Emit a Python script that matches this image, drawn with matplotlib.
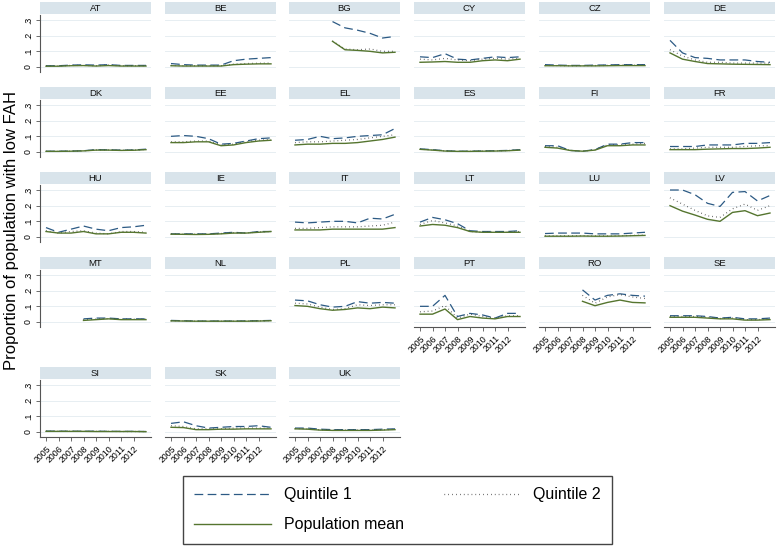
import matplotlib
matplotlib.use('Agg')
import matplotlib.pyplot as plt
import numpy as np

plt.rcParams['font.family'] = ['Liberation Sans', 'DejaVu Sans']

nan = np.nan
years = [2005, 2006, 2007, 2008, 2009, 2010, 2011, 2012, 2013]
tick_years = [2005, 2006, 2007, 2008, 2009, 2010, 2011, 2012]
y_ticks = [0, 0.1, 0.2, 0.3]
y_ticklabels = ['0', '.1', '.2', '.3']
countries = ['AT', 'BE', 'BG', 'CY', 'CZ', 'DE',
             'DK', 'EE', 'EL', 'ES', 'FI', 'FR',
             'HU', 'IE', 'IT', 'LT', 'LU', 'LV',
             'MT', 'NL', 'PL', 'PT', 'RO', 'SE',
             'SI', 'SK', 'UK']

quintile1 = {
    'AT': [.008, .008, .012, .014, .012, .015, .010, .010, .010],
    'BE': [.022, .015, .012, .012, .012, .040, .050, .055, .060],
    'BG': [nan, nan, nan, .290, .250, .235, .215, .185, .195],
    'CY': [.065, .060, .085, .050, .045, .055, .065, .060, .065],
    'CZ': [.015, .012, .010, .010, .012, .013, .015, .015, .015],
    'DE': [.170, .090, .060, .055, .045, .045, .045, .035, .030],
    'DK': [.005, .005, .006, .008, .015, .014, .012, .013, .018],
    'EE': [.100, .105, .100, .085, .050, .055, .070, .085, .090],
    'EL': [.075, .080, .100, .085, .090, .100, .105, .110, .150],
    'ES': [.020, .015, .008, .005, .005, .007, .008, .010, .015],
    'FI': [.040, .040, .010, .005, .015, .050, .050, .060, .060],
    'FR': [.035, .035, .035, .045, .045, .045, .055, .055, .060],
    'HU': [.060, .030, .050, .070, .050, .040, .060, .065, .075],
    'IE': [.020, .020, .020, .020, .025, .030, .025, .035, .035],
    'IT': [.095, .090, .095, .100, .100, .090, .120, .115, .145],
    'LT': [.095, .125, .110, .085, .040, .035, .035, .035, .040],
    'LU': [.022, .025, .025, .025, .020, .020, .020, .025, .030],
    'LV': [.300, .300, .270, .215, .195, .285, .290, .230, .265],
    'MT': [nan, nan, nan, .020, .025, .025, .020, .020, .020],
    'NL': [.010, .008, .006, .006, .006, .006, .007, .008, .010],
    'PL': [.140, .135, .110, .095, .100, .130, .120, .125, .120],
    'PT': [.100, .100, .170, .035, .055, .045, .025, .055, .055],
    'RO': [nan, nan, nan, .205, .140, .170, .180, .170, .165],
    'SE': [.040, .040, .040, .035, .025, .030, .020, .020, .025],
    'SI': [.006, .005, .005, .005, .005, .004, .004, .004, .003],
    'SK': [.055, .065, .040, .025, .030, .035, .035, .040, .030],
    'UK': [.025, .025, .018, .015, .015, .015, .015, .018, .020],
}

quintile2 = {
    'AT': [.006, .006, .010, .010, .008, .012, .008, .008, .008],
    'BE': [.010, .008, .008, .008, .008, .018, .022, .024, .025],
    'BG': [nan, nan, nan, .165, .115, .110, .115, .100, .100],
    'CY': [.050, .045, .055, .045, .040, .050, .055, .050, .055],
    'CZ': [.010, .009, .008, .008, .009, .010, .011, .011, .011],
    'DE': [.110, .070, .045, .030, .030, .025, .025, .025, .025],
    'DK': [.004, .004, .005, .007, .013, .013, .011, .012, .016],
    'EE': [.065, .065, .070, .070, .045, .050, .065, .075, .080],
    'EL': [.060, .065, .065, .070, .075, .080, .090, .100, .110],
    'ES': [.018, .013, .007, .004, .004, .006, .007, .009, .013],
    'FI': [.035, .030, .010, .005, .015, .045, .045, .050, .055],
    'FR': [.020, .020, .025, .030, .030, .030, .035, .040, .040],
    'HU': [.040, .025, .035, .040, .025, .020, .035, .035, .030],
    'IE': [.019, .018, .017, .018, .022, .027, .025, .032, .035],
    'IT': [.055, .055, .060, .065, .065, .065, .070, .075, .095],
    'LT': [.080, .105, .090, .070, .035, .030, .030, .030, .035],
    'LU': [.008, .008, .008, .008, .007, .007, .008, .010, .012],
    'LV': [.250, .210, .170, .135, .125, .180, .210, .170, .200],
    'MT': [nan, nan, nan, .015, .018, .022, .018, .018, .017],
    'NL': [.008, .007, .005, .005, .005, .005, .006, .007, .009],
    'PL': [.120, .115, .095, .080, .085, .110, .105, .110, .110],
    'PT': [.065, .070, .105, .025, .050, .035, .025, .040, .040],
    'RO': [nan, nan, nan, .170, .120, .160, .175, .160, .150],
    'SE': [.035, .035, .035, .030, .022, .025, .015, .015, .020],
    'SI': [.005, .005, .004, .004, .004, .004, .003, .003, .003],
    'SK': [.040, .035, .020, .020, .020, .025, .025, .025, .025],
    'UK': [.022, .020, .014, .012, .012, .012, .012, .014, .017],
}

pop_mean = {
    'AT': [.005, .005, .008, .009, .006, .009, .006, .006, .006],
    'BE': [.008, .006, .006, .006, .006, .015, .018, .020, .020],
    'BG': [nan, nan, nan, .164, .110, .106, .100, .090, .094],
    'CY': [.030, .032, .035, .030, .030, .040, .045, .040, .050],
    'CZ': [.008, .008, .007, .007, .007, .008, .009, .009, .009],
    'DE': [.090, .050, .035, .022, .020, .018, .017, .016, .015],
    'DK': [.004, .004, .005, .007, .012, .012, .010, .011, .015],
    'EE': [.060, .060, .065, .065, .040, .045, .060, .070, .075],
    'EL': [.045, .050, .050, .055, .055, .060, .070, .080, .095],
    'ES': [.017, .012, .006, .004, .004, .005, .006, .008, .012],
    'FI': [.030, .025, .010, .005, .012, .040, .040, .045, .045],
    'FR': [.015, .015, .015, .018, .020, .022, .022, .025, .030],
    'HU': [.035, .025, .025, .035, .020, .020, .030, .030, .025],
    'IE': [.018, .017, .016, .017, .020, .025, .025, .030, .035],
    'IT': [.045, .045, .045, .050, .050, .050, .050, .050, .060],
    'LT': [.070, .080, .075, .060, .035, .030, .030, .030, .030],
    'LU': [.005, .005, .005, .006, .005, .005, .006, .008, .010],
    'LV': [.200, .165, .140, .113, .100, .157, .168, .136, .153],
    'MT': [nan, nan, nan, .010, .015, .020, .015, .015, .015],
    'NL': [.007, .006, .005, .005, .005, .005, .005, .006, .008],
    'PL': [.105, .100, .085, .075, .080, .090, .085, .095, .090],
    'PT': [.050, .050, .083, .015, .035, .025, .020, .035, .035],
    'RO': [nan, nan, nan, .132, .104, .125, .140, .125, .122],
    'SE': [.030, .030, .030, .025, .020, .020, .012, .012, .015],
    'SI': [.004, .004, .004, .004, .003, .003, .003, .003, .002],
    'SK': [.030, .028, .015, .015, .018, .018, .020, .020, .020],
    'UK': [.020, .018, .012, .010, .010, .010, .010, .012, .015],
}

# ---------------- layout (pixels) ----------------
W, H = 778, 547
fig = plt.figure(figsize=(W / 100, H / 100), dpi=100)


def rect(x, y, w, h):
    return [x / W, 1 - (y + h) / H, w / W, h / H]


col_lefts = [40, 165, 289, 414, 539, 664]
row_tops = [2, 87, 172, 257, 367]
panel_w = 111

c_q1 = '#2c5a84'
c_q2 = '#2a2a2a'
c_mean = '#55752f'
strip_col = '#d9e4eb'
grid_col = '#e7eef2'
axis_col = '#555555'

handles = None
for i, c in enumerate(countries):
    r, col = divmod(i, 6)
    top = row_tops[r]
    left = col_lefts[col]

    # strip header
    hax = fig.add_axes(rect(left, top, panel_w, 12))
    hax.set_facecolor(strip_col)
    hax.set_xticks([]); hax.set_yticks([])
    for s in hax.spines.values():
        s.set_visible(False)
    hax.text(0.5, 0.45, c, ha='center', va='center', fontsize=6.8,
             transform=hax.transAxes, color='#111111')

    ax = fig.add_axes(rect(left, top + 13, panel_w, 57))
    ax.set_xlim(2004.52, 2013.4)
    ax.set_ylim(-0.032, 0.332)
    ax.set_yticks(y_ticks)
    ax.grid(axis='y', color=grid_col, lw=0.7)
    ax.set_axisbelow(True)
    for s in ax.spines.values():
        s.set_visible(False)

    l1, = ax.plot(years, quintile1[c], color=c_q1, lw=0.9, dashes=(7, 3.5))
    l2, = ax.plot(years, quintile2[c], color=c_q2, lw=0.9, dashes=(0.5, 2.6),
                  dash_capstyle='butt')
    l3, = ax.plot(years, pop_mean[c], color=c_mean, lw=1.0)
    if handles is None:
        handles = (l1, l2, l3)

    if col == 0:
        ax.spines['left'].set_visible(True)
        ax.spines['left'].set_color(axis_col)
        ax.spines['left'].set_linewidth(0.8)
        ax.set_yticklabels(y_ticklabels, rotation=90, va='center', fontsize=6.3)
        ax.tick_params(axis='y', length=3, width=0.6, color=axis_col, pad=2)
    else:
        ax.tick_params(axis='y', left=False, labelleft=False)

    is_bottom = (r == 4) or (r == 3 and col >= 3)
    ax.set_xticks(tick_years)
    if is_bottom:
        ax.spines['bottom'].set_visible(True)
        ax.spines['bottom'].set_color(axis_col)
        ax.spines['bottom'].set_linewidth(0.8)
        ax.set_xticklabels([str(y) for y in tick_years], rotation=45,
                           ha='right', va='top', rotation_mode='anchor',
                           fontsize=6.3)
        ax.tick_params(axis='x', length=3, width=0.6, color=axis_col, pad=2)
    else:
        ax.tick_params(axis='x', bottom=False, labelbottom=False)

fig.text(12 / W, 1 - 230 / H, 'Proportion of population with low FAH',
         rotation=90, ha='center', va='center', fontsize=12)

leg = fig.legend([handles[0], handles[2], handles[1]],
                 ['Quintile 1', 'Population mean', 'Quintile 2'],
                 ncol=2, loc='upper left',
                 bbox_to_anchor=(183 / W, 1 - 476 / H),
                 fontsize=11.5, handlelength=4.8, handletextpad=0.8,
                 columnspacing=2.5, labelspacing=0.95, borderpad=0.7,
                 fancybox=False, framealpha=1, edgecolor='#444444',
                 borderaxespad=0)
leg.get_frame().set_linewidth(1.0)

fig.savefig('out.png', dpi=100)
